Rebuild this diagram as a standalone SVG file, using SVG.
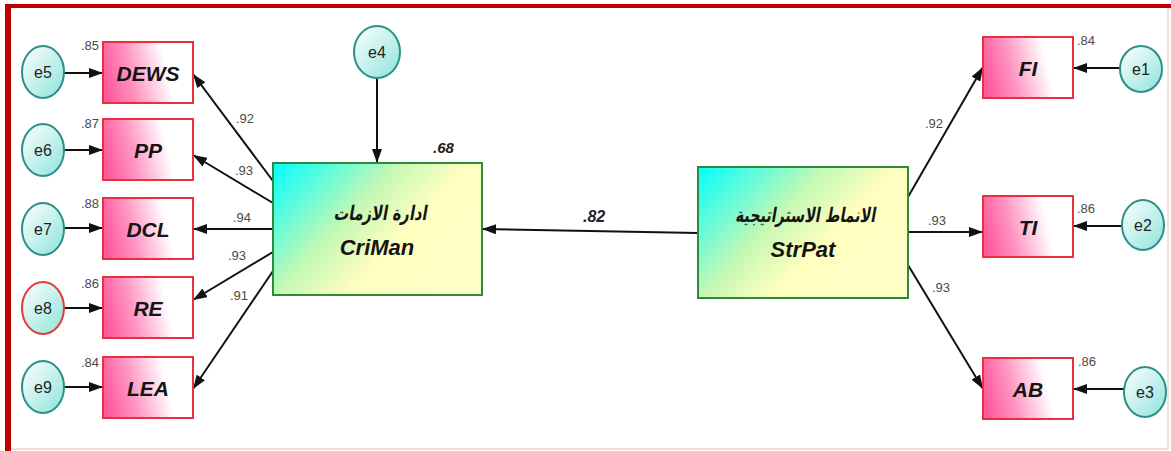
<svg xmlns="http://www.w3.org/2000/svg" width="1171" height="451" viewBox="0 0 1171 451">
  <style>
    .obs { stroke: #e8313c; stroke-width: 2; fill: url(#obsFill); }
    .lat { stroke: #2e8b3e; stroke-width: 2; fill: url(#latFill); }
    .err { stroke: #2a9088; stroke-width: 2; fill: url(#errFill); }
    .err-red { stroke: #e23a3a; stroke-width: 2; fill: url(#errFill); }
    .path { stroke: #111; stroke-width: 2; fill: none; marker-end: url(#head); }
    .name { font-family: "Liberation Sans", Arial, sans-serif; font-weight: bold; font-style: italic; font-size: 21px; fill: #141414; text-anchor: middle; }
    .lname { font-family: "Liberation Sans", Arial, sans-serif; font-weight: bold; font-style: italic; font-size: 22px; fill: #141414; text-anchor: middle; }
    .ar { font-family: "DejaVu Sans", "Noto Sans", sans-serif; font-weight: bold; font-size: 20px; fill: #141414; text-anchor: middle; }
    .enode { font-family: "Liberation Sans", Arial, sans-serif; font-size: 16px; fill: #222; text-anchor: middle; }
    .coef { font-family: "Liberation Sans", Arial, sans-serif; font-size: 13px; fill: #4a4a4a; }
    .bigcoef { font-family: "Liberation Sans", Arial, sans-serif; font-weight: bold; font-style: italic; font-size: 15px; fill: #222; }
  </style>
  <defs>
    <linearGradient id="obsFill" x1="0" y1="0.55" x2="0.95" y2="0.4">
      <stop offset="0" stop-color="#ff5a9c"/>
      <stop offset="0.3" stop-color="#ff8fbf"/>
      <stop offset="0.75" stop-color="#ffffff"/>
      <stop offset="1" stop-color="#ffffff"/>
    </linearGradient>
    <linearGradient id="latFill" x1="0" y1="0" x2="1" y2="0.6">
      <stop offset="0" stop-color="#00ffff"/>
      <stop offset="0.45" stop-color="#c6f8b4"/>
      <stop offset="0.7" stop-color="#ffffc0"/>
      <stop offset="1" stop-color="#ffffc6"/>
    </linearGradient>
    <linearGradient id="errFill" x1="0" y1="0" x2="1" y2="1">
      <stop offset="0" stop-color="#ffffff"/>
      <stop offset="1" stop-color="#8ee3db"/>
    </linearGradient>
    <marker id="head" viewBox="0 0 14 10" refX="14" refY="5" markerWidth="14" markerHeight="10" markerUnits="userSpaceOnUse" orient="auto">
      <path d="M0,0 L14,5 L0,10 z" fill="#111"/>
    </marker>
  </defs>

  <rect width="1171" height="451" fill="#ffffff"/>

  <!-- frame -->
  <g id="frame">
    <rect x="5" y="4" width="1166" height="4" fill="#c00000"/>
    <rect x="5" y="4" width="6" height="447" fill="#c00000"/>
    <line x1="1168" y1="8" x2="1168" y2="449" stroke="#f6d6d6" stroke-width="1.5"/>
    <line x1="11" y1="449" x2="1168" y2="449" stroke="#f8d0d0" stroke-width="1.5"/>
  </g>

  <!-- connectors -->
  <g id="connectors">
    <!-- error terms to indicators -->
    <line class="path" x1="64" y1="73" x2="103" y2="73"/>
    <line class="path" x1="64" y1="150" x2="103" y2="150"/>
    <line class="path" x1="64" y1="228" x2="103" y2="228"/>
    <line class="path" x1="64" y1="308" x2="103" y2="308"/>
    <line class="path" x1="64" y1="387" x2="103" y2="387"/>
    <line class="path" x1="377" y1="78" x2="377" y2="163"/>
    <line class="path" x1="1120" y1="68" x2="1073" y2="68"/>
    <line class="path" x1="1122" y1="226" x2="1073" y2="226"/>
    <line class="path" x1="1124" y1="389" x2="1073" y2="389"/>
    <!-- CriMan loadings -->
    <line class="path" x1="273" y1="181" x2="193" y2="74"/>
    <line class="path" x1="273" y1="203" x2="193" y2="155"/>
    <line class="path" x1="273" y1="229" x2="193" y2="229"/>
    <line class="path" x1="273" y1="252" x2="193" y2="300"/>
    <line class="path" x1="273" y1="271" x2="193" y2="389"/>
    <!-- structural path -->
    <line class="path" x1="698" y1="233" x2="482" y2="229"/>
    <!-- StrPat loadings -->
    <line class="path" x1="908" y1="197" x2="983" y2="67"/>
    <line class="path" x1="908" y1="232" x2="983" y2="232"/>
    <line class="path" x1="908" y1="265" x2="983" y2="389"/>
  </g>

  <!-- coefficients on paths -->
  <g id="path-labels">
    <text class="coef" x="236" y="123">.92</text>
    <text class="coef" x="235" y="175">.93</text>
    <text class="coef" x="233" y="222">.94</text>
    <text class="coef" x="228" y="260">.93</text>
    <text class="coef" x="230" y="300">.91</text>
    <text class="coef" x="925" y="128">.92</text>
    <text class="coef" x="928" y="225">.93</text>
    <text class="coef" x="932" y="292">.93</text>
    <text class="bigcoef" x="583" y="222" style="font-size:16px">.82</text>
  </g>

  <!-- left indicators -->
  <g id="node-DEWS">
    <rect class="obs" x="103" y="42" width="90" height="61"/>
    <text class="name" x="148" y="81">DEWS</text>
    <text class="coef" x="99" y="50" text-anchor="end">.85</text>
  </g>
  <g id="node-PP">
    <rect class="obs" x="103" y="119" width="90" height="61"/>
    <text class="name" x="148" y="158">PP</text>
    <text class="coef" x="99" y="128" text-anchor="end">.87</text>
  </g>
  <g id="node-DCL">
    <rect class="obs" x="103" y="198" width="90" height="61"/>
    <text class="name" x="148" y="237">DCL</text>
    <text class="coef" x="99" y="208" text-anchor="end">.88</text>
  </g>
  <g id="node-RE">
    <rect class="obs" x="103" y="277" width="90" height="61"/>
    <text class="name" x="148" y="316">RE</text>
    <text class="coef" x="99" y="288" text-anchor="end">.86</text>
  </g>
  <g id="node-LEA">
    <rect class="obs" x="103" y="357" width="90" height="61"/>
    <text class="name" x="148" y="396">LEA</text>
    <text class="coef" x="99" y="367" text-anchor="end">.84</text>
  </g>

  <!-- left error terms -->
  <g id="node-e5"><ellipse class="err" cx="43" cy="72" rx="21" ry="26"/><text class="enode" x="43" y="78">e5</text></g>
  <g id="node-e6"><ellipse class="err" cx="43" cy="150" rx="21" ry="26"/><text class="enode" x="43" y="156">e6</text></g>
  <g id="node-e7"><ellipse class="err" cx="43" cy="229" rx="21" ry="26"/><text class="enode" x="43" y="235">e7</text></g>
  <g id="node-e8"><ellipse class="err-red" cx="43" cy="308" rx="21" ry="26"/><text class="enode" x="43" y="314">e8</text></g>
  <g id="node-e9"><ellipse class="err" cx="43" cy="387" rx="21" ry="26"/><text class="enode" x="43" y="393">e9</text></g>

  <!-- disturbance of CriMan -->
  <g id="node-e4"><ellipse class="err" cx="377" cy="52" rx="23" ry="26"/><text class="enode" x="377" y="58">e4</text></g>

  <!-- latent: crisis management -->
  <g id="node-CriMan">
    <rect class="lat" x="273" y="163" width="209" height="132"/>
    <g transform="translate(380,220) skewX(-10)">
      <text class="ar" x="0" y="0" textLength="93" lengthAdjust="spacingAndGlyphs">ادارة الازمات</text>
    </g>
    <text class="lname" x="377" y="255">CriMan</text>
    <text class="bigcoef" x="433" y="153">.68</text>
  </g>

  <!-- latent: strategic patterns -->
  <g id="node-StrPat">
    <rect class="lat" x="698" y="167" width="210" height="131"/>
    <g transform="translate(805,222) skewX(-10)">
      <text class="ar" x="0" y="0" textLength="140" lengthAdjust="spacingAndGlyphs">الانماط الاستراتيجية</text>
    </g>
    <text class="lname" x="803" y="257">StrPat</text>
  </g>

  <!-- right indicators -->
  <g id="node-FI">
    <rect class="obs" x="983" y="37" width="90" height="61"/>
    <text class="name" x="1028" y="76">FI</text>
    <text class="coef" x="1077" y="45">.84</text>
  </g>
  <g id="node-TI">
    <rect class="obs" x="983" y="196" width="90" height="61"/>
    <text class="name" x="1028" y="235">TI</text>
    <text class="coef" x="1077" y="213">.86</text>
  </g>
  <g id="node-AB">
    <rect class="obs" x="983" y="358" width="90" height="61"/>
    <text class="name" x="1028" y="397">AB</text>
    <text class="coef" x="1078" y="366">.86</text>
  </g>

  <!-- right error terms -->
  <g id="node-e1"><ellipse class="err" cx="1141" cy="69" rx="21" ry="23"/><text class="enode" x="1141" y="75">e1</text></g>
  <g id="node-e2"><ellipse class="err" cx="1143" cy="225" rx="21" ry="25"/><text class="enode" x="1143" y="231">e2</text></g>
  <g id="node-e3"><ellipse class="err" cx="1145" cy="392" rx="21" ry="25"/><text class="enode" x="1145" y="398">e3</text></g>
</svg>
